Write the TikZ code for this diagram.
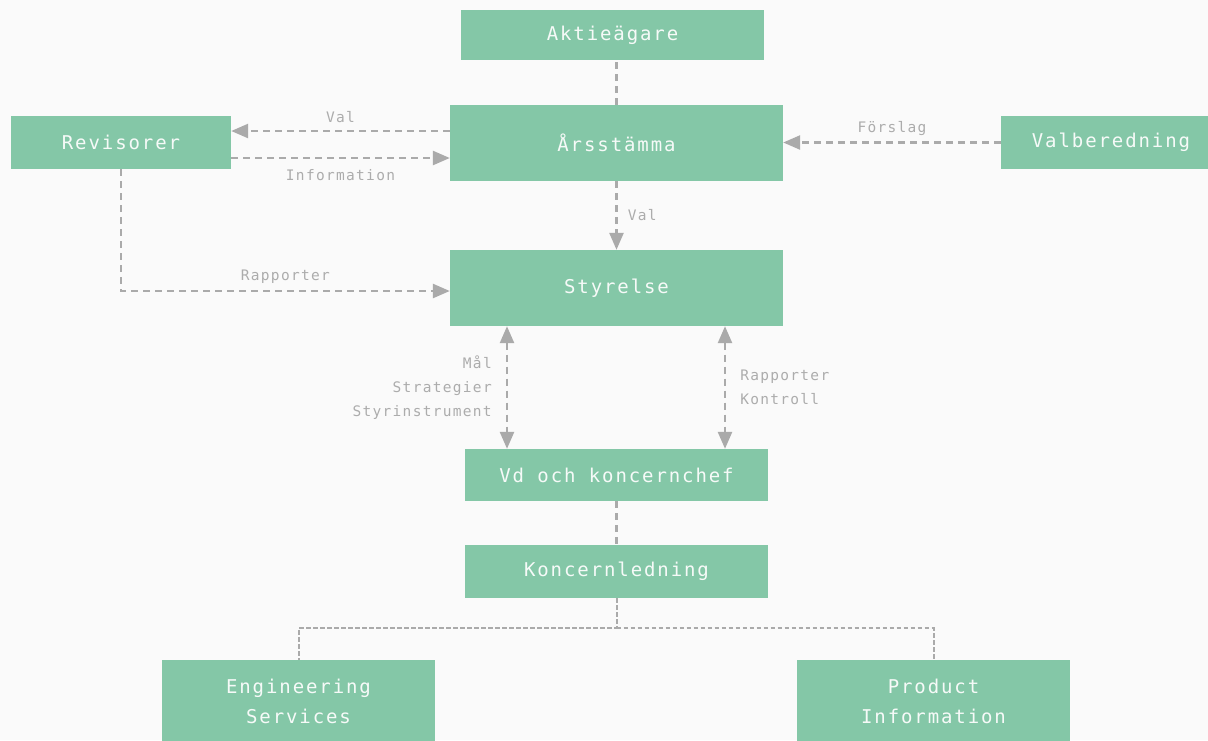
\documentclass[tikz,border=0pt]{standalone}
\usepackage{fontspec}
\usetikzlibrary{arrows.meta}
\newfontfamily\boxfont[LetterSpace=10]{DejaVu Sans Mono}
\newfontfamily\lblfont[LetterSpace=9]{DejaVu Sans Mono}
\definecolor{bggray}{RGB}{250,250,250}
\definecolor{boxgreen}{RGB}{132,199,167}
\definecolor{boxtext}{RGB}{246,250,248}
\definecolor{linegray}{RGB}{170,170,170}
\definecolor{lblgray}{RGB}{172,172,172}
\tikzset{
  box/.style={fill=boxgreen, text=boxtext, inner sep=0pt,
    font=\boxfont\fontsize{19}{30}\selectfont},
  link/.style={draw=linegray, line width=2.5pt, dash pattern=on 7pt off 5pt},
  finelink/.style={draw=linegray, line width=2pt, dash pattern=on 4.5pt off 2.5pt},
  arr/.style={-{Triangle[length=17pt,width=14pt]}},
  arrs/.style={{Triangle[length=17pt,width=14pt]}-{Triangle[length=17pt,width=14pt]}},
  lbl/.style={text=lblgray, inner sep=2pt, font=\lblfont\fontsize{14.5}{24}\selectfont}
}
\begin{document}
\begin{tikzpicture}[x=1pt,y=-1pt]
  \fill[bggray] (0,0) rectangle (1208,740);
  \useasboundingbox (0,0) rectangle (1208,740);
  \node[box, minimum width=303pt, minimum height=50pt] (aktie) at (612.5,35) {Aktieägare};
  \node[box, minimum width=333pt, minimum height=76pt] (arsst) at (616.5,143) {Årsstämma};
  \node[box, minimum width=220pt, minimum height=53pt] (revis) at (121,142.5) {Revisorer};
  \node[box, minimum width=220pt, minimum height=53pt] (valb) at (1111,142.5) {Valberedning};
  \node[box, minimum width=333pt, minimum height=76pt] (styr) at (616.5,288) {Styrelse};
  \node[box, minimum width=303pt, minimum height=52pt] (vd) at (616.5,475) {Vd och koncernchef};
  \node[box, minimum width=303pt, minimum height=53pt] (koncl) at (616.5,571.5) {Koncernledning};
  \node[box, minimum width=273pt, minimum height=82pt, align=center] (eng) at (298.5,701) {Engineering\\Services};
  \node[box, minimum width=273pt, minimum height=82pt, align=center] (prod) at (933.5,701) {Product\\Information};
  \coordinate (fork) at ([yshift=-30pt]koncl.south);
  \begin{scope}[link]
    \draw (arsst.north) -- (arsst.north |- aktie.south);
    \draw[arr] ([yshift=12pt]arsst.west) -- ([yshift=12pt]arsst.west -| revis.east)
      node[lbl, midway, above=5pt] {Val};
    \draw[arr] ([yshift=-15pt]arsst.west -| revis.east) -- ([yshift=-15pt]arsst.west)
      node[lbl, midway, below=8pt] {Information};
    \draw[arr] (valb.west) -- (valb.west -| arsst.east)
      node[lbl, midway, above=4pt] {Förslag};
    \draw[arr] (arsst.south) -- (styr.north)
      node[lbl, midway, right=8pt] {Val};
    \draw[arr] (revis.south) |- ([yshift=-3pt]styr.west)
      node[lbl, pos=0.75, above=4pt] {Rapporter};
    \draw[arrs] ([xshift=-109.5pt]styr.south) -- ([xshift=-109.5pt]styr.south |- vd.north)
      node[lbl, midway, left=12pt, align=right] {Mål\\Strategier\\Styrinstrument};
    \draw[arrs] ([xshift=108.5pt]styr.south) -- ([xshift=108.5pt]styr.south |- vd.north)
      node[lbl, midway, right=12pt, align=left] {Rapporter\\Kontroll};
    \draw (vd.south) -- (koncl.north);
  \end{scope}
  \begin{scope}[finelink]
    \draw (koncl.south) -- (fork) -| (eng.north);
    \draw (fork) -| (prod.north);
  \end{scope}
\end{tikzpicture}
\end{document}
